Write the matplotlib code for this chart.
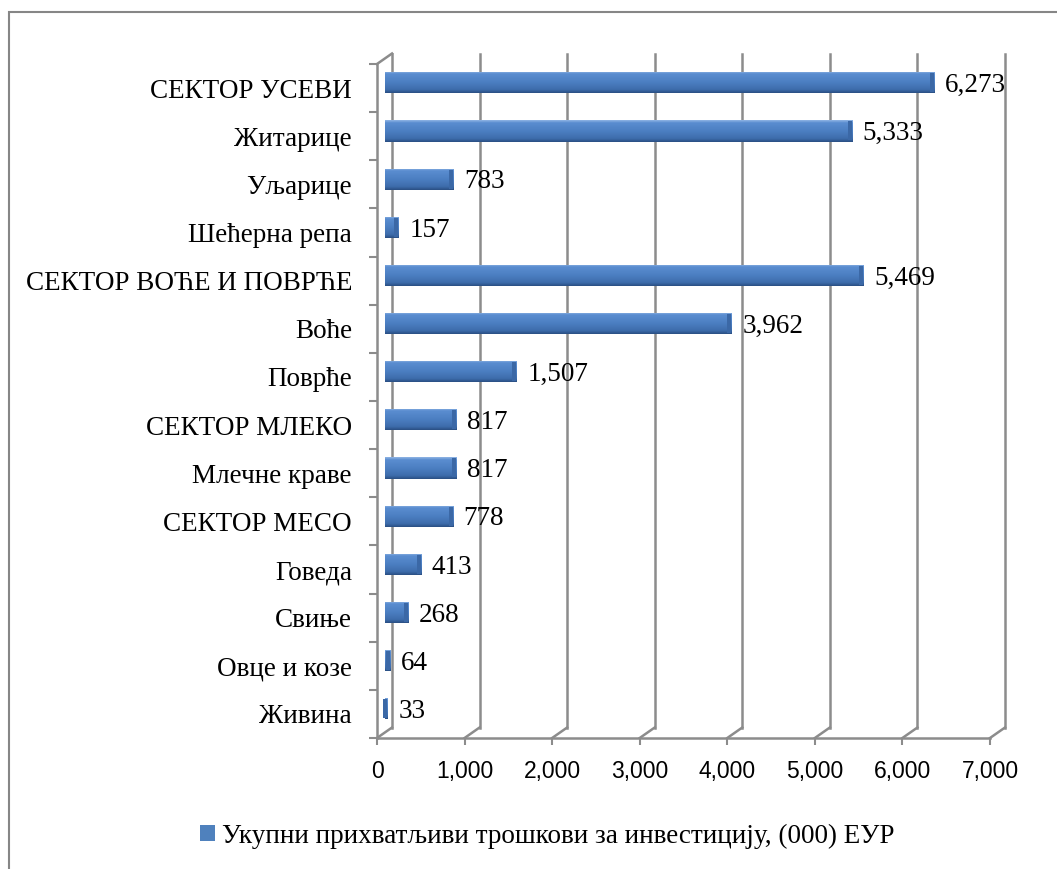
import matplotlib.pyplot as plt
import numpy as np
from matplotlib.colors import LinearSegmentedColormap
from matplotlib.patches import Rectangle, Patch

categories = ['СЕКТОР УСЕВИ', 'Житарице', 'Уљарице', 'Шећерна репа',
              'СЕКТОР ВОЋЕ И ПОВРЋЕ', 'Воће', 'Поврће', 'СЕКТОР МЛЕКО',
              'Млечне краве', 'СЕКТОР МЕСО', 'Говеда', 'Свиње',
              'Овце и козе', 'Живина']
values = [6273, 5333, 783, 157, 5469, 3962, 1507, 817, 817, 778, 413, 268, 64, 33]
x_ticks = [0, 1000, 2000, 3000, 4000, 5000, 6000, 7000]
legend_label = 'Укупни прихватљиви трошкови за инвестицију, (000) ЕУР'

serif = 'Liberation Serif'
grid = '#8c8c8c'

W, H = 1057, 869
fig = plt.figure(figsize=(W / 100, H / 100), dpi=100)

# front plane of the 3d box, in pixels
L, R, T, B = 377, 990, 64, 738
ax = fig.add_axes([L / W, 1 - B / H, (R - L) / W, (B - T) / H])
n = len(categories)
xmax = x_ticks[-1]

# pixel -> data factors, depth offset of the back wall
sx = xmax / (R - L)
sy = n / (B - T)
dx, dy = 15 * sx, 10.5 * sy

# back wall gridlines + floor diagonals
for v in x_ticks:
    ax.plot([v + dx, v + dx], [n - 0.5 - dy, -0.5 - dy], color=grid, lw=1.8,
            clip_on=False, zorder=1)
    ax.plot([v, v + dx], [n - 0.5, n - 0.5 - dy], color=grid, lw=1.8,
            clip_on=False, zorder=1)
ax.plot([0, dx], [-0.5, -0.5 - dy], color=grid, lw=1.8, clip_on=False, zorder=1)

# bars with a vertical gradient
cmap = LinearSegmentedColormap.from_list('bar', [
    (0.0, '#8fb4e4'), (0.12, '#5a8dd0'), (0.5, '#4c7fc2'),
    (0.85, '#3d6cab'), (1.0, '#2a4f83')])
grad = np.linspace(0, 1, 64).reshape(-1, 1)
ypos = np.arange(n) - dy / 2
bars = ax.barh(ypos, values, left=dx / 2, height=0.44, color='#4a7ebb', zorder=3)
for b in bars:
    x0, y0 = b.get_x(), b.get_y()
    im = ax.imshow(grad, cmap=cmap, aspect='auto', zorder=4,
                   extent=(x0, x0 + b.get_width(), y0 + b.get_height(), y0))
    im.set_clip_path(b)
    # end cap
    ax.barh(y0 + b.get_height() / 2, 4 * sx, left=x0 + b.get_width() - 4 * sx,
            height=b.get_height() * 0.9, color='#3b68a6', zorder=5)

for y, v in zip(ypos, values):
    ax.text(dx / 2 + v + 11 * sx, y + 0.06, f'{v:,}', va='center', ha='left',
            fontsize=19.5, family=serif, zorder=6)

ax.set_xlim(0, xmax)
ax.set_ylim(n - 0.5, -0.5)

for s in ['top', 'right']:
    ax.spines[s].set_visible(False)
for s in ['left', 'bottom']:
    ax.spines[s].set_color(grid)
    ax.spines[s].set_linewidth(1.8)

ax.set_xticks(x_ticks)
ax.set_xticklabels([f'{v:,}' for v in x_ticks], family='Liberation Sans', fontsize=16.5)
ax.tick_params(axis='x', length=5, width=1.5, color=grid, pad=11)
ax.set_yticks(range(n))
ax.set_yticklabels(categories, family=serif, fontsize=19.5)
ax.tick_params(axis='y', length=0, pad=18)
ax.set_yticks(np.arange(-0.5, n), minor=True)
ax.tick_params(axis='y', which='minor', length=6, width=1.5, color=grid)
ax.set_facecolor('none')

fig.legend([Patch(facecolor='#4f81bd')], [legend_label], loc='center left',
           bbox_to_anchor=(200 / W, 1 - 836 / H), frameon=False,
           prop={'family': serif, 'size': 19.5}, handlelength=0.55,
           handleheight=0.55, handletextpad=0.25, borderpad=0, borderaxespad=0)

# outer chart border (only top and left visible)
fig.patches.append(Rectangle((9 / W, -0.5), 2, 0.5 + 1 - 12 / H,
                             transform=fig.transFigure, fill=False,
                             edgecolor='#868686', lw=1.5))

fig.savefig('out.png', dpi=100)
